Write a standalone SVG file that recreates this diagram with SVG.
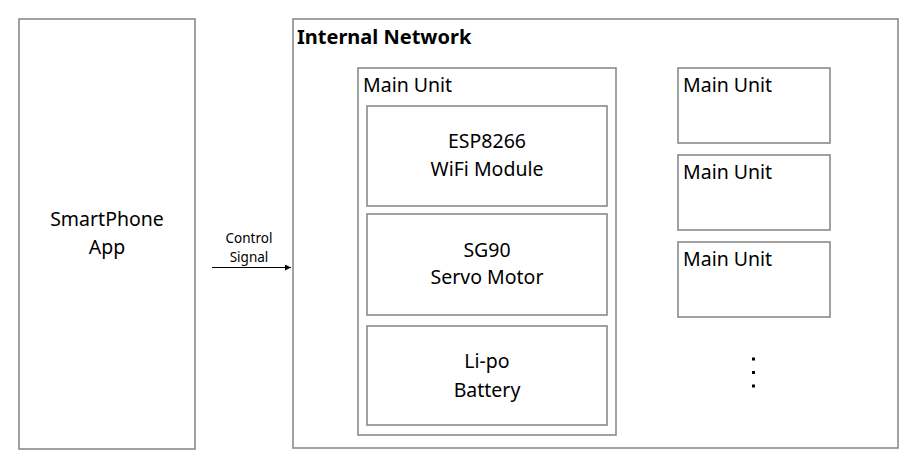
<svg xmlns="http://www.w3.org/2000/svg" width="920" height="475" viewBox="0 0 920 475">
<defs>
<style>
.box{fill:#fff;stroke:#8a8a8a;stroke-width:1.6}
.t{font-family:"Noto Sans","Open Sans","DejaVu Sans",sans-serif;font-size:19.5px;fill:#000}
.c{text-anchor:middle}
.h{font-family:"Noto Sans","Open Sans","DejaVu Sans",sans-serif;font-size:20px;font-weight:bold;fill:#000}
.s{font-family:"Noto Sans","Open Sans","DejaVu Sans",sans-serif;font-size:13.5px;fill:#000;text-anchor:middle}
.line{stroke:#000;stroke-width:1.2;fill:none}
</style>
<marker id="arr" markerWidth="8" markerHeight="8" refX="6" refY="3" orient="auto" markerUnits="userSpaceOnUse">
<path d="M0,0 L6,3 L0,6 Z" fill="#000"/>
</marker>
</defs>
<rect width="920" height="475" fill="#fff"/>
<g id="smartphone">
<rect class="box" x="19" y="19" width="176" height="430"/>
<text class="t c" x="107" y="226">SmartPhone</text>
<text class="t c" x="107" y="254">App</text>
</g>
<g id="internal-network">
<rect class="box" x="293" y="19" width="605" height="429"/>
<text class="h" x="297" y="44">Internal Network</text>
</g>
<g id="main-unit">
<rect class="box" x="358" y="68" width="258" height="367"/>
<text class="t" x="363" y="92">Main Unit</text>
</g>
<g id="esp8266">
<rect class="box" x="367" y="106" width="240" height="100"/>
<text class="t c" x="487" y="148">ESP8266</text>
<text class="t c" x="487" y="176">WiFi Module</text>
</g>
<g id="sg90">
<rect class="box" x="367" y="214" width="240" height="101"/>
<text class="t c" x="487" y="257">SG90</text>
<text class="t c" x="487" y="284">Servo Motor</text>
</g>
<g id="battery">
<rect class="box" x="367" y="326" width="240" height="99"/>
<text class="t c" x="487" y="368">Li-po</text>
<text class="t c" x="487" y="397">Battery</text>
</g>
<g id="main-unit-2">
<rect class="box" x="678" y="68" width="152" height="75"/>
<text class="t" x="683" y="92">Main Unit</text>
</g>
<g id="main-unit-3">
<rect class="box" x="678" y="155" width="152" height="75"/>
<text class="t" x="683" y="179">Main Unit</text>
</g>
<g id="main-unit-4">
<rect class="box" x="678" y="242" width="152" height="75"/>
<text class="t" x="683" y="266">Main Unit</text>
</g>
<g id="ellipsis">
<rect x="752" y="357.5" width="3" height="3" fill="#000"/>
<rect x="752" y="371" width="3" height="3" fill="#000"/>
<rect x="752" y="384.5" width="3" height="3" fill="#000"/>
</g>
<g id="connectors">
<line class="line" x1="212" y1="267.5" x2="291" y2="267.5" marker-end="url(#arr)"/>
<text class="s" x="249" y="243">Control</text>
<text class="s" x="249" y="262">Signal</text>
</g>
</svg>
